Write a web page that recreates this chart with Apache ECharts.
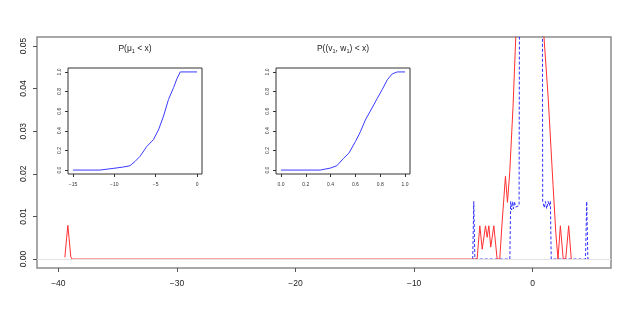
<!DOCTYPE html>
<html>
<head>
<meta charset="utf-8">
<script src="https://cdn.jsdelivr.net/npm/echarts@6/dist/echarts.min.js"></script>
<style>
  html, body { margin: 0; padding: 0; background: #fff; }
  #chart { width: 630px; height: 315px; }
</style>
</head>
<body>
<div id="chart"></div>
<script>
// main plot: two densities
const redX = [-39.45, -39.3, -39.2, -39.1, -38.95, -38.85, -4.69, -4.46, -4.26, -3.98, -3.84, -3.70, -3.54, -3.28, -3.0, -2.78, -2.59, -2.5, -2.3, -2.13, -1.94, -1.88, -1.66, -1.57, -1.43, -1.2, 0.7, 0.95, 1.3, 1.71, 1.95, 2.13, 2.33, 2.57, 2.78, 3.03, 3.25];
const redY = [0.0004, 0.005, 0.0079, 0.005, 0.0005, 0, 0, 0.0078, 0.0023, 0.0078, 0.0051, 0.0078, 0.0028, 0.0078, 0, 0, 0.0082, 0.0082, 0.0194, 0.0133, 0.0203, 0.0203, 0.0358, 0.0361, 0.052, 0.08, 0.08, 0.052, 0.038, 0.0175, 0.006, 0, 0.0078, 0, 0, 0.0078, 0];
const blueX = [-5.06, -4.97, -4.88, -1.93, -1.86, -1.78, -1.70, -1.62, -1.54, -1.45, -1.15, -1.1, 0.8, 0.84, 0.98, 1.07, 1.18, 1.29, 1.4, 1.49, 1.56, 4.45, 4.55, 4.65, 4.72];
const blueY = [0, 0.0135, 0, 0, 0.0135, 0.0115, 0.0135, 0.0118, 0.0135, 0.0122, 0.0125, 0.09, 0.09, 0.0135, 0.012, 0.0135, 0.0118, 0.0135, 0.0125, 0.0136, 0, 0, 0.0135, 0, 0];
const mainXTicks = [-40, -30, -20, -10, 0];
const mainYTicks = [0, 0.01, 0.02, 0.03, 0.04, 0.05];

// inset 1: P(mu1 < x)
const muX = [-15, -11.76, -10.14, -8.92, -8.11, -7.5, -6.89, -6.08, -5.27, -4.66, -4.05, -3.45, -2.84, -2.43, -2.03, 0];
const muP = [0, 0, 0.017, 0.031, 0.044, 0.088, 0.14, 0.24, 0.31, 0.41, 0.55, 0.72, 0.84, 0.93, 1.0, 1.0];
const muTicks = [-15, -10, -5, 0];

// inset 2: P((v1, w1) < x)
const vwX = [0, 0.316, 0.397, 0.45, 0.505, 0.546, 0.6, 0.64, 0.68, 0.72, 0.776, 0.816, 0.857, 0.897, 0.938, 1.0];
const vwP = [0, 0, 0.02, 0.044, 0.12, 0.17, 0.29, 0.39, 0.51, 0.6, 0.73, 0.82, 0.92, 0.98, 1.0, 1.0];
const vwTicks = [0, 0.2, 0.4, 0.6, 0.8, 1.0];
const pTicks = [0, 0.2, 0.4, 0.6, 0.8, 1.0];

const FONT = "Liberation Sans";
const zip = (xs, ys) => xs.map((x, i) => [x, ys[i]]);
const minus = (s) => String(s).replace("-", "\u2212");

function mainAxisLabel(ticks, fmt, extra) {
  return Object.assign({
    customValues: ticks,
    formatter: fmt,
    fontSize: 8.5,
    fontFamily: FONT,
    color: "#222",
  }, extra);
}

function insetX(idx, min, max, ticks, fmt) {
  return {
    type: "value", gridIndex: idx, min: min, max: max,
    axisLine: { show: false, onZero: false }, splitLine: { show: false },
    axisTick: { show: true, customValues: ticks, length: 3, lineStyle: { color: "#333" } },
    axisLabel: { customValues: ticks, formatter: fmt, fontSize: 5, fontFamily: FONT, color: "#333", margin: 8 },
  };
}

function insetY(idx) {
  return {
    type: "value", gridIndex: idx, min: -0.04, max: 1.04,
    axisLine: { show: false, onZero: false }, splitLine: { show: false },
    axisTick: { show: true, customValues: pTicks, length: 3, lineStyle: { color: "#333" } },
    axisLabel: { customValues: pTicks, formatter: (v) => v.toFixed(1), rotate: 90, fontSize: 5, fontFamily: FONT, color: "#333", margin: 6 },
  };
}

const titleRich = {
  n: { fontSize: 8.5, fontFamily: FONT, fill: "#222" },
  s: { fontSize: 5.5, fontFamily: FONT, fill: "#222", padding: [5, 0, 0, 0] },
};

let myChart = echarts.init(document.getElementById("chart"));
myChart.setOption({
  animation: false,
  grid: [
    { left: 37, top: 37, right: 19, bottom: 47, show: true, borderColor: "#8c8c8c", borderWidth: 1.5, containLabel: false, outerBoundsMode: "none" },
    { left: 68, top: 68, width: 134, height: 106, show: true, borderColor: "#333", borderWidth: 1, backgroundColor: "#fff", containLabel: false, outerBoundsMode: "none" },
    { left: 276, top: 68, width: 134, height: 106, show: true, borderColor: "#333", borderWidth: 1, backgroundColor: "#fff", containLabel: false, outerBoundsMode: "none" },
  ],
  xAxis: [
    {
      type: "value", gridIndex: 0, min: -41.8, max: 6.6,
      axisLine: { show: false, onZero: false }, splitLine: { show: false },
      axisTick: { show: true, customValues: mainXTicks, length: 4, lineStyle: { color: "#555" } },
      axisLabel: mainAxisLabel(mainXTicks, (v) => minus(v), { margin: 11 }),
    },
    insetX(1, -15.6, 0.6, muTicks, (v) => minus(v)),
    insetX(2, -0.04, 1.04, vwTicks, (v) => v.toFixed(1)),
  ],
  yAxis: [
    {
      type: "value", gridIndex: 0, min: -0.0021, max: 0.0521,
      axisLine: { show: false, onZero: false }, splitLine: { show: false },
      axisTick: { show: true, customValues: mainYTicks, length: 4, lineStyle: { color: "#555" } },
      axisLabel: mainAxisLabel(mainYTicks, (v) => v.toFixed(2), { rotate: 90, margin: 9 }),
    },
    insetY(1),
    insetY(2),
  ],
  graphic: [
    { type: "text", x: 135, y: 49, style: { text: "{n|P(μ}{s|1}{n| < x)}", align: "center", verticalAlign: "middle", rich: titleRich } },
    { type: "text", x: 343, y: 49, style: { text: "{n|P((v}{s|1}{n|, w}{s|1}{n|) < x)}", align: "center", verticalAlign: "middle", rich: titleRich } },
  ],
  series: [
    {
      type: "line", xAxisIndex: 0, yAxisIndex: 0,
      data: zip(redX, redY),
      showSymbol: false,
      lineStyle: { color: "#ff3030", width: 1 },
      markLine: {
        silent: true, symbol: ["none", "none"], label: { show: false },
        lineStyle: { color: "#e2e2e2", type: "solid", width: 1 },
        data: [{ yAxis: 0 }],
      },
      z: 3,
    },
    {
      type: "line", xAxisIndex: 0, yAxisIndex: 0,
      data: zip(blueX, blueY),
      showSymbol: false,
      lineStyle: { color: "#3030ff", width: 1, type: [3, 2] },
      z: 2,
    },
    {
      type: "line", xAxisIndex: 1, yAxisIndex: 1,
      data: zip(muX, muP),
      showSymbol: false,
      lineStyle: { color: "#3a3aff", width: 1 },
    },
    {
      type: "line", xAxisIndex: 2, yAxisIndex: 2,
      data: zip(vwX, vwP),
      showSymbol: false,
      lineStyle: { color: "#3a3aff", width: 1 },
    },
  ],
});
</script>
</body>
</html>
